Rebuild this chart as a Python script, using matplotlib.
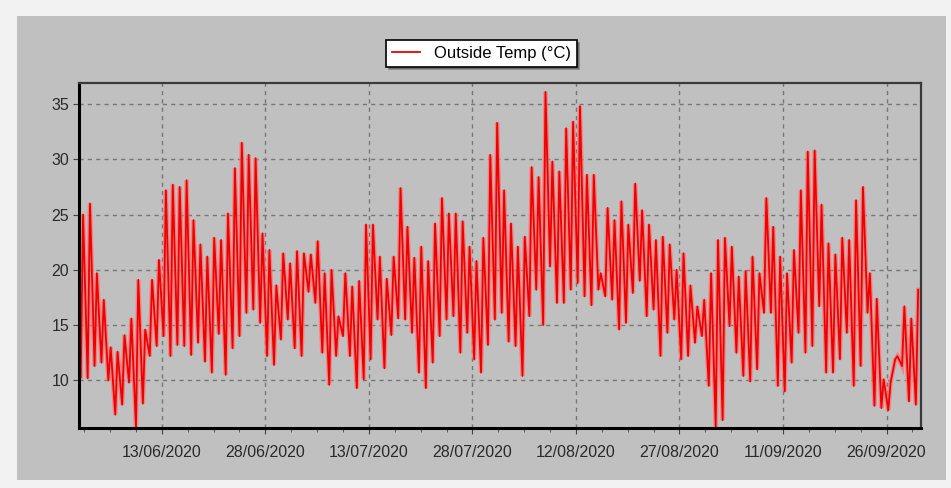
import matplotlib
matplotlib.use('Agg')
import matplotlib.pyplot as plt
from matplotlib.patches import Rectangle
import pandas as pd

plt.rcParams['font.family'] = ['Liberation Sans', 'DejaVu Sans']

# daily lows / highs, 1 June .. 30 Sept 2020
lows = [10.3, 10.2, 11.3, 11.6, 10.0, 6.9, 7.8, 9.8, 5.8, 7.9, 12.2, 13.1, 14.0, 12.2, 13.2, 13.1, 12.3, 13.4, 11.7, 10.7, 14.2,
        10.5, 12.9, 14.0, 16.1, 16.4, 15.2, 12.2, 11.4, 13.7, 15.5, 12.9, 12.2, 18.0, 17.0, 12.5, 9.6, 12.2, 14.0, 12.2, 9.3,
        10.1, 11.9, 15.5, 11.1, 14.1, 15.6, 15.5, 14.3, 10.7, 9.3, 11.6, 14.0, 15.5, 15.8, 12.5, 14.3, 11.9, 10.7, 13.2, 15.5,
        16.1, 13.5, 13.1, 10.4, 15.8, 18.2, 15.0, 20.3, 17.0, 17.0, 18.2, 18.8, 17.6, 16.8, 18.2, 17.6, 17.3, 14.6, 15.2, 17.9,
        19.0, 15.8, 16.4, 12.2, 14.3, 15.5, 11.9, 12.2, 13.4, 14.0, 9.5, 5.8, 6.4, 14.9, 12.5, 10.4, 9.9, 11.0, 16.1, 16.1, 9.5,
        9.0, 11.6, 14.3, 12.5, 13.1, 16.7, 10.7, 10.7, 11.9, 14.3, 9.5, 11.3, 16.1, 7.7, 7.5, 7.3, 11.9, 11.3, 8.1, 7.8]
highs = [25.0, 26.0, 19.7, 17.3, 13.0, 12.6, 14.1, 15.6, 19.1, 14.6, 19.1, 20.9, 27.2, 27.7, 27.5, 28.1, 24.5, 22.3, 21.2, 22.9, 22.7,
         25.1, 29.2, 31.5, 30.4, 30.1, 23.3, 21.8, 18.6, 21.5, 20.6, 21.7, 21.5, 21.4, 22.6, 19.7, 20.0, 15.8, 19.7, 18.5, 19.0,
         24.1, 24.1, 21.2, 19.2, 21.2, 27.4, 23.9, 21.1, 22.1, 20.8, 24.2, 26.5, 25.1, 25.1, 24.4, 22.1, 20.8, 22.9, 30.4, 33.3,
         27.2, 24.2, 22.1, 23.0, 29.3, 28.4, 36.1, 29.8, 28.9, 32.8, 33.4, 34.8, 28.6, 28.6, 19.7, 25.6, 24.5, 26.2, 24.1, 27.8,
         25.4, 24.1, 22.7, 23.0, 22.3, 20.0, 21.5, 18.6, 16.7, 17.3, 19.7, 22.7, 22.9, 22.1, 19.4, 19.9, 21.2, 19.7, 26.5, 23.9, 21.2,
         19.7, 21.8, 27.2, 30.7, 30.8, 25.9, 22.4, 21.4, 22.9, 22.7, 26.3, 27.5, 19.7, 17.4, 10.1, 9.8, 12.2, 16.7, 15.6, 18.2]

tick_dates = ['2020-06-13', '2020-06-28', '2020-07-13', '2020-07-28',
              '2020-08-12', '2020-08-27', '2020-09-11', '2020-09-26']

days = pd.date_range('2020-06-01', periods=len(lows), freq='D')
times = []
temps = []
for d, lo, hi in zip(days, lows, highs):
    times += [d + pd.Timedelta(hours=6), d + pd.Timedelta(hours=14)]
    temps += [lo, hi]

fig = plt.figure(figsize=(9.51, 4.88), dpi=100, facecolor='#f2f2f2')
fig.patches.append(Rectangle((17/951, 0.0164), 929/951, 0.9508, transform=fig.transFigure,
                             facecolor='#c0c0c0', edgecolor='none', zorder=-10))

ax = fig.add_axes([0.0831, 0.1230, 0.8854, 0.7070])
ax.set_zorder(1)
ax.set_facecolor('#c0c0c0')
# soft pink halo under the red trace, like the blurred original
ax.plot(times, temps, color='#ff7070', lw=3.2, alpha=0.75, solid_joinstyle='miter')
ax.plot(times, temps, color='#ee0000', lw=1.3, label='Outside Temp (°C)')

ax.set_xlim(pd.Timestamp('2020-06-01'), pd.Timestamp('2020-10-01'))
ax.set_ylim(5.7, 36.9)
ax.set_yticks([10, 15, 20, 25, 30, 35])

majors = pd.to_datetime(tick_dates)
ax.set_xticks(majors)
ax.set_xticklabels([m.strftime('%d/%m/%Y') for m in majors])
minors = pd.date_range(majors[0] - pd.Timedelta(hours=270), pd.Timestamp('2020-10-01'), freq='90h')
ax.set_xticks(minors, minor=True)

ax.grid(True, which='major', color='#777777', linestyle=(0, (3, 3)), linewidth=1)
for s in ['left', 'bottom']:
    ax.spines[s].set_linewidth(2.2)
    ax.spines[s].set_color('black')
for s in ['top', 'right']:
    ax.spines[s].set_linewidth(1.6)
    ax.spines[s].set_color('#3a3a3a')

ax.tick_params(axis='both', which='major', labelsize=11.5, labelcolor='#2a2a2a', color='#444444', length=4)
ax.tick_params(axis='x', which='major', pad=8)
ax.tick_params(axis='y', which='major', pad=3)
ax.tick_params(axis='x', which='minor', length=3, color='#444444')

leg = ax.legend(loc='center', bbox_to_anchor=(0.5063, 0.891), bbox_transform=fig.transFigure,
                frameon=True, fancybox=False, shadow=True, edgecolor='black', facecolor='white',
                framealpha=1, fontsize=12, handlelength=1.7, borderpad=0.35)
leg.get_frame().set_linewidth(1.2)

fig.savefig('out.png', dpi=100, facecolor=fig.get_facecolor())
